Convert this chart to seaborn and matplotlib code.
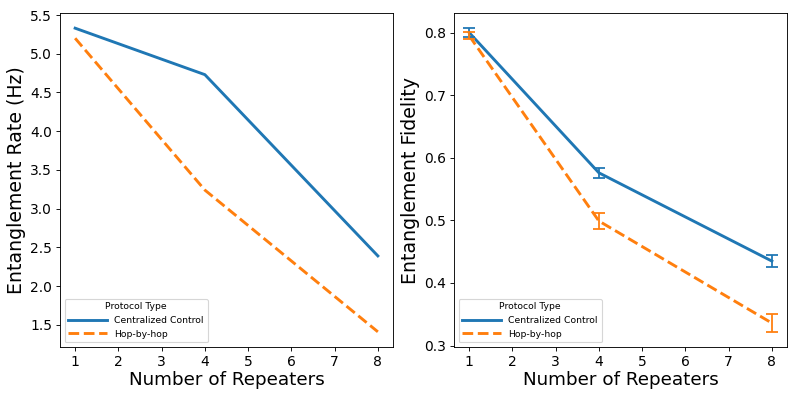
import matplotlib
matplotlib.use("Agg")
import matplotlib.pyplot as plt
import seaborn as sns
import pandas as pd
import numpy as np

repeaters = [1, 4, 8]
protocols = ["Centralized Control", "Hop-by-hop"]
rate_central = [5.33, 4.73, 2.39]
rate_hop = [5.20, 3.24, 1.41]
fid_central = [0.800, 0.576, 0.435]
fid_hop = [0.795, 0.499, 0.336]
fid_err_central = [0.007, 0.008, 0.009]
fid_err_hop = [0.006, 0.013, 0.014]

df = pd.DataFrame({
    "Number of Repeaters": repeaters * 2,
    "Protocol Type": [protocols[0]] * 3 + [protocols[1]] * 3,
    "rate": rate_central + rate_hop,
    "fid": fid_central + fid_hop,
})

palette = {protocols[0]: "#1f77b4", protocols[1]: "#ff7f0e"}
dashes = {protocols[0]: "", protocols[1]: (3.7, 1.6)}

DPI = 80
fig = plt.figure(figsize=(797 / DPI, 399 / DPI), dpi=DPI)
ax1 = fig.add_axes([60 / 797, 1 - 347 / 399, 333 / 797, 334 / 399])
ax2 = fig.add_axes([454 / 797, 1 - 347 / 399, 333 / 797, 334 / 399])

sns.lineplot(data=df, x="Number of Repeaters", y="rate", hue="Protocol Type",
             style="Protocol Type", palette=palette, dashes=dashes,
             linewidth=2.6, ax=ax1, errorbar=None)
sns.lineplot(data=df, x="Number of Repeaters", y="fid", hue="Protocol Type",
             style="Protocol Type", palette=palette, dashes=dashes,
             linewidth=2.6, ax=ax2, errorbar=None)

ax2.errorbar(repeaters, fid_central, yerr=fid_err_central, fmt="none",
             ecolor=palette[protocols[0]], capsize=5, elinewidth=1.6, capthick=1.6)
ax2.errorbar(repeaters, fid_hop, yerr=fid_err_hop, fmt="none",
             ecolor=palette[protocols[1]], capsize=5, elinewidth=1.6, capthick=1.6)

ax1.set_ylabel("Entanglement Rate (Hz)", fontsize=17)
ax2.set_ylabel("Entanglement Fidelity", fontsize=17)
for ax in (ax1, ax2):
    ax.set_xlabel("Number of Repeaters", fontsize=16.5, labelpad=2)
    ax.set_xticks(range(1, 9))
    ax.tick_params(labelsize=12.5)
    leg = ax.legend(title="Protocol Type", loc="lower left", fontsize=8.3,
                    title_fontsize=8.3, handlelength=4.2)
ax1.set_yticks([1.5, 2.0, 2.5, 3.0, 3.5, 4.0, 4.5, 5.0, 5.5])
ax2.set_yticks([0.3, 0.4, 0.5, 0.6, 0.7, 0.8])

fig.savefig("out.png", dpi=DPI)
